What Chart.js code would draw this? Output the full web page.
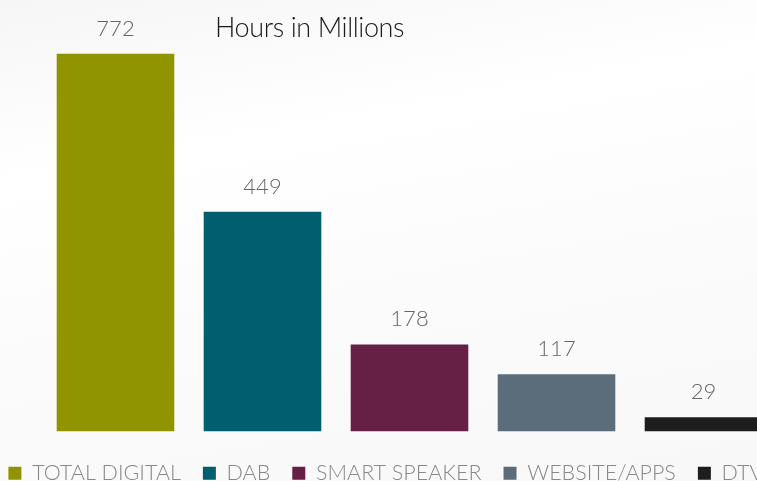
<!DOCTYPE html>
<html>
<head>
<meta charset="utf-8">
<script src="https://cdn.jsdelivr.net/npm/chart.js@4"></script>
<style>
  html, body { margin: 0; padding: 0; width: 757px; height: 481px; overflow: hidden; background: #fcfcfc; }
  #wrap { position: relative; width: 757px; height: 481px; overflow: hidden;
    background: linear-gradient(170deg, #f6f6f6 0%, #ffffff 30%, #fbfbfb 60%, #f8f8f8 100%); }
  #box { position: absolute; left: -24px; top: 0; width: 820px; height: 494px; }
  #title { position: absolute; left: 215px; top: 10px; font-family: Lato, sans-serif; font-weight: 300;
    font-size: 27px; color: #1a1a1a; letter-spacing: -0.4px; }
</style>
</head>
<body>
<div id="wrap">
  <div id="box"><canvas id="chart"></canvas></div>
  <div id="title">Hours in Millions</div>
</div>
<script>
// Categories and values (hours in millions)
const categories = ["TOTAL DIGITAL", "DAB", "SMART SPEAKER", "WEBSITE/APPS", "DTV"];
const hours = [772, 449, 178, 117, 29];
const barColors = ["#8f9400", "#005e6e", "#661f45", "#5b6d7a", "#1e1e1e"];

// valores encima de cada barra
const valueLabels = {
  id: "valueLabels",
  afterDatasetsDraw(chart) {
    const ctx = chart.ctx;
    const meta = chart.getDatasetMeta(0);
    ctx.save();
    ctx.font = "300 22px Lato, sans-serif";
    ctx.fillStyle = "#666";
    ctx.textAlign = "center";
    ctx.textBaseline = "middle";
    meta.data.forEach((bar, i) => {
      ctx.fillText(String(hours[i]), bar.x, bar.y - 25);
    });
    ctx.restore();
  },
};

// ejes invisibles, solo ocupan espacio
const hiddenAxis = (size, horizontal) => ({
  display: true,
  grid: { display: false },
  ticks: { display: false },
  border: { display: false },
  afterFit(axis) {
    if (horizontal) axis.height = size;
    else axis.width = size;
  },
});

new Chart(document.getElementById("chart"), {
  type: "bar",
  data: {
    labels: categories,
    datasets: [
      {
        label: "Hours in Millions",
        data: hours,
        backgroundColor: barColors,
        categoryPercentage: 1,
        barPercentage: 0.8,
        yAxisID: "y",
      },
    ],
  },
  options: {
    responsive: true,
    maintainAspectRatio: false,
    animation: false,
    layout: { padding: { top: 40, right: 0, left: 0, bottom: 0 } },
    plugins: {
      title: { display: false },
      tooltip: { enabled: false },
      legend: {
        position: "bottom",
        labels: {
          color: "#888",
          font: { family: "Lato, sans-serif", size: 21.5, weight: "300" },
          boxWidth: 13,
          boxHeight: 13,
          padding: 22,
          generateLabels: (chart) =>
            chart.data.labels.map((text, i) => ({
              text,
              fillStyle: barColors[i],
              strokeStyle: barColors[i],
              lineWidth: 0,
              fontColor: "#888",
              index: i,
            })),
        },
      },
    },
    scales: {
      x: hiddenAxis(9, true),
      y: { ...hiddenAxis(66, false), min: 0, max: 800 },
      yRight: { ...hiddenAxis(19, false), position: "right", min: 0, max: 800 },
    },
  },
  plugins: [valueLabels],
});
</script>
</body>
</html>
